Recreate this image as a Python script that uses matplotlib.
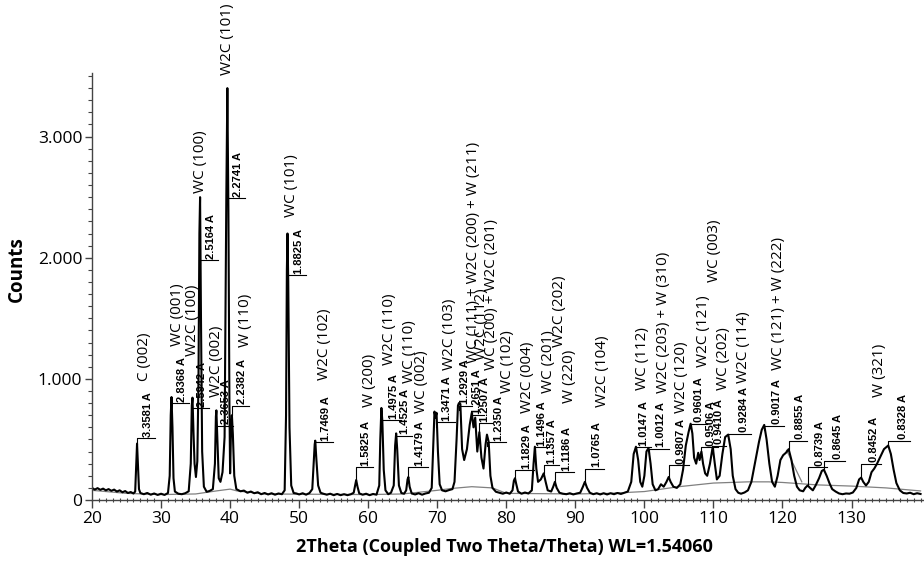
import matplotlib
matplotlib.use("Agg")
import matplotlib.pyplot as plt
from matplotlib.ticker import MultipleLocator, FuncFormatter

# scan: (2theta, counts)
trace = [
    (20.0, 100), (20.4, 86), (20.8, 98), (21.2, 84), (21.6, 94), (22.0, 80), (22.4, 90),
    (22.8, 76), (23.2, 86), (23.6, 70), (24.0, 80), (24.4, 64), (24.8, 74), (25.2, 58),
    (25.6, 66), (26.0, 54), (26.25, 70), (26.4, 300), (26.52, 466), (26.65, 300),
    (26.8, 90), (27.0, 58), (27.5, 48), (28.0, 58), (28.5, 44), (29.0, 54), (29.5, 42),
    (30.0, 52), (30.5, 42), (31.0, 58), (31.25, 200), (31.4, 700), (31.51, 850),
    (31.65, 600), (31.8, 180), (32.0, 70), (32.5, 52), (33.0, 48), (33.5, 56), (34.0, 72),
    (34.3, 300), (34.45, 780), (34.55, 845), (34.7, 550), (34.85, 300), (35.05, 190),
    (35.25, 320), (35.42, 1000), (35.55, 2200), (35.65, 2500), (35.78, 1500),
    (35.95, 400), (36.2, 110), (36.6, 68), (37.0, 74), (37.5, 90), (37.8, 300),
    (37.94, 690), (38.01, 740), (38.15, 500), (38.35, 180), (38.6, 150), (38.9, 230),
    (39.2, 520), (39.45, 2500), (39.6, 3400), (39.75, 2400), (39.9, 800), (40.0, 220),
    (40.12, 560), (40.26, 700), (40.4, 540), (40.6, 200), (40.9, 90), (41.5, 72),
    (42.0, 78), (42.5, 60), (43.0, 70), (43.5, 56), (44.0, 64), (44.5, 48), (45.0, 58),
    (45.5, 46), (46.0, 56), (46.5, 44), (47.0, 54), (47.5, 48), (47.9, 80), (48.1, 700),
    (48.22, 1900), (48.31, 2200), (48.42, 1800), (48.6, 600), (48.85, 120), (49.2, 58),
    (49.6, 54), (50.0, 46), (50.5, 56), (51.0, 44), (51.5, 58), (51.9, 90), (52.1, 300),
    (52.25, 460), (52.33, 490), (52.5, 330), (52.75, 120), (53.1, 60), (53.5, 52),
    (54.0, 44), (54.5, 52), (55.0, 40), (55.5, 50), (56.0, 40), (56.5, 48), (57.0, 40),
    (57.5, 48), (57.9, 60), (58.1, 120), (58.26, 165), (58.45, 110), (58.7, 55),
    (59.2, 44), (59.7, 52), (60.2, 40), (60.7, 50), (61.2, 44), (61.6, 120), (61.75, 500),
    (61.91, 760), (62.05, 650), (62.25, 250), (62.5, 80), (62.9, 48), (63.3, 60),
    (63.7, 120), (63.9, 450), (64.05, 550), (64.2, 420), (64.45, 120), (64.8, 58),
    (65.2, 52), (65.5, 80), (65.7, 170), (65.82, 190), (66.0, 110), (66.3, 54), (66.8, 46),
    (67.3, 56), (67.8, 44), (68.3, 54), (68.8, 60), (69.2, 100), (69.45, 500), (69.6, 730),
    (69.75, 680), (69.9, 720), (70.1, 400), (70.35, 130), (70.7, 80), (71.2, 72),
    (71.7, 82), (72.2, 90), (72.5, 150), (72.8, 500), (73.0, 780), (73.14, 800),
    (73.35, 790), (73.6, 420), (73.9, 330), (74.3, 420), (74.7, 620), (75.0, 720),
    (75.25, 600), (75.5, 680), (75.8, 400), (76.1, 560), (76.4, 350), (76.7, 260),
    (77.0, 460), (77.2, 540), (77.45, 480), (77.7, 200), (78.0, 100), (78.5, 68),
    (79.0, 60), (79.5, 52), (80.0, 62), (80.5, 52), (80.9, 80), (81.1, 160), (81.26, 180),
    (81.45, 130), (81.7, 70), (82.2, 52), (82.7, 62), (83.2, 54), (83.7, 80), (83.95, 300),
    (84.14, 440), (84.35, 260), (84.6, 150), (85.0, 170), (85.42, 220), (85.7, 150),
    (86.0, 80), (86.5, 70), (86.8, 110), (87.04, 150), (87.3, 100), (87.7, 60), (88.2, 52),
    (88.7, 48), (89.2, 56), (89.7, 46), (90.2, 54), (90.7, 60), (91.1, 110), (91.38, 150),
    (91.7, 100), (92.1, 60), (92.6, 48), (93.1, 56), (93.6, 46), (94.1, 56), (94.6, 46),
    (95.1, 56), (95.6, 48), (96.1, 58), (96.6, 50), (97.1, 60), (97.6, 70), (98.1, 150),
    (98.45, 380), (98.78, 440), (99.1, 330), (99.4, 150), (99.7, 110), (100.0, 200),
    (100.3, 400), (100.6, 430), (100.9, 300), (101.2, 130), (101.6, 80), (102.0, 90),
    (102.4, 130), (102.8, 110), (103.2, 150), (103.52, 190), (103.8, 150), (104.2, 110),
    (104.7, 100), (105.2, 130), (105.6, 250), (106.0, 450), (106.4, 560), (106.7, 630),
    (106.95, 550), (107.2, 350), (107.5, 300), (107.8, 390), (108.0, 330), (108.26, 400),
    (108.5, 300), (108.8, 220), (109.1, 200), (109.5, 300), (109.9, 440), (110.2, 300),
    (110.5, 170), (110.9, 200), (111.3, 380), (111.7, 520), (112.14, 540), (112.5, 420),
    (112.8, 200), (113.2, 90), (113.6, 60), (114.0, 52), (114.5, 62), (115.0, 80),
    (115.5, 150), (116.0, 300), (116.6, 480), (117.0, 580), (117.36, 620), (117.7, 500),
    (118.1, 300), (118.5, 150), (118.9, 110), (119.3, 200), (119.7, 330), (120.1, 370),
    (120.5, 390), (120.9, 420), (121.3, 330), (121.7, 200), (122.1, 110), (122.5, 80),
    (123.0, 72), (123.3, 100), (123.64, 120), (124.0, 100), (124.4, 80), (124.8, 120),
    (125.3, 180), (125.7, 240), (126.0, 250), (126.4, 200), (126.8, 140), (127.2, 90),
    (127.7, 70), (128.2, 54), (128.7, 48), (129.2, 54), (129.7, 52), (130.2, 62),
    (130.7, 100), (131.1, 170), (131.4, 185), (131.7, 150), (132.1, 120), (132.5, 150),
    (132.9, 230), (133.3, 260), (133.7, 300), (134.2, 360), (134.7, 420), (135.32, 450),
    (135.7, 380), (136.1, 250), (136.5, 140), (137.0, 80), (137.5, 58), (138.0, 54),
    (138.5, 60), (139.0, 48), (139.5, 56), (140.0, 50),
]

# fitted background (thin grey line)
background = [
    (20, 80), (25, 55), (30, 45), (35, 50), (38, 75), (40, 90), (41, 75), (45, 50),
    (60, 45), (65, 50), (70, 80), (72, 95), (75, 110), (78, 100), (80, 55), (90, 50),
    (95, 55), (100, 70), (105, 110), (110, 140), (115, 150), (118, 150), (120, 145),
    (125, 125), (130, 115), (135, 100), (140, 75),
]
fit_line = [(120.6, 410), (122.8, 150)]

# peak labels
peak_2theta = [26.52, 31.51, 34.55, 35.65, 38.01, 39.60, 40.26, 48.31, 52.33, 58.26,
               61.91, 64.05, 65.82, 69.75, 73.14, 75.02, 76.10, 77.20, 81.26, 84.14,
               85.42, 87.04, 91.38, 98.78, 100.60, 103.52, 106.70, 108.26, 109.90, 112.14,
               117.36, 120.90, 123.64, 126.00, 131.40, 135.32]
peak_counts = [466, 850, 845, 2500, 740, 3400, 700, 2200, 490, 165,
               760, 550, 190, 730, 800, 720, 560, 540, 180, 440,
               220, 150, 150, 440, 430, 190, 630, 400, 440, 540,
               620, 420, 120, 250, 185, 450]
d_labels = ["3.3581 A", "2.8368 A", "2.5942 A", "2.5164 A", "2.3653 A", "2.2741 A",
            "2.2382 A", "1.8825 A", "1.7469 A", "1.5825 A", "1.4975 A", "1.4525 A",
            "1.4179 A", "1.3471 A", "1.2929 A", "1.2651 A", "1.2507 A", "1.2350 A",
            "1.1829 A", "1.1496 A", "1.1357 A", "1.1186 A", "1.0765 A", "1.0147 A",
            "1.0012 A", "0.9807 A", "0.9601 A", "0.9506 A", "0.9410 A", "0.9284 A",
            "0.9017 A", "0.8855 A", "0.8739 A", "0.8645 A", "0.8452 A", "0.8328 A"]
phase_labels = ["C (002)", "WC (001)", "W2C (100)", "WC (100)", "W2C (002)", "W2C (101)",
                "W (110)", "WC (101)", "W2C (102)", "W (200)", "W2C (110)", "WC (110)",
                "WC (002)", "W2C (103)", "WC (111) + W2C (200) + W (211)", "W2C (112)",
                "WC (200) + W2C (201)", "WC (102)", "W2C (004)", "WC (201)", "W2C (202)",
                "W (220)", "W2C (104)", "WC (112)", "W2C (203) + W (310)", "W2C (120)",
                "W2C (121)", "WC (003)", "WC (202)", "W2C (114)", "WC (121) + W (222)",
                "", "", "", "W (321)", ""]
label_level = [508, 797, 756, 1980, 615, 2490, 780, 1855, 478, 271,
               657, 530, 270, 640, 780, 700, 632, 478, 245, 436,
               285, 230, 260, 435, 425, 285, 630, 435, 450, 548,
               615, 490, 270, 325, 300, 490]
label_end = [29.1, 34.1, 37.0, 38.2, 40.4, 42.1, 42.8, 51.0, 54.9, 60.7,
             64.8, 66.4, 68.6, 72.5, 75.0, 76.8, 78.0, 80.0, 84.0, 86.2,
             87.6, 89.8, 94.2, 101.0, 103.5, 106.4, 109.0, 110.7, 111.8, 115.4,
             120.2, 123.5, 126.4, 129.1, 134.3, 138.5]

# where the phase names were placed (centre x, bottom y)
phase_pos = [(27.6, 980), (32.4, 1270), (34.6, 1190), (35.7, 2533), (38.1, 847),
             (39.6, 3508), (42.2, 1260), (48.9, 2335), (53.7, 988), (60.2, 765),
             (63.1, 1112), (66.0, 963), (67.7, 715), (71.8, 1070), (75.2, 1128),
             (76.4, 1153), (77.9, 1070), (80.2, 880), (83.1, 715), (86.1, 880),
             (87.75, 1260), (89.2, 797), (94.0, 765), (99.8, 905), (102.7, 880),
             (105.4, 715), (108.5, 1096), (110.2, 1800), (111.5, 905), (114.3, 963),
             (119.4, 1070), None, None, None, (134.0, 847), None]

plt.rcParams['font.family'] = ['Open Sans', 'DejaVu Sans']

fig = plt.figure(figsize=(9.24, 5.61), dpi=100)
ax = fig.add_axes([0.0996, 0.1087, 0.9004, 0.7612])

bx, by = zip(*background)
ax.plot(bx, by, color='#808080', lw=0.9)
fx, fy = zip(*fit_line)
ax.plot(fx, fy, color='#808080', lw=0.9)
tx, ty = zip(*trace)
ax.plot(tx, ty, color='black', lw=1.5)

for i in range(len(peak_2theta)):
    xs = peak_2theta[i]
    yh = label_level[i]
    xe = label_end[i]
    y0 = min(peak_counts[i], yh - 35)
    ax.plot([xs, xs, xe], [y0, yh, yh], color='black', lw=0.8)
    ax.annotate(d_labels[i], xy=(xe, yh), xytext=(-1.5, 1), textcoords='offset points',
                rotation=90, ha='right', va='bottom', fontsize=8, fontweight='bold',
                family=['Liberation Sans', 'DejaVu Sans'])
    if phase_labels[i]:
        px, py = phase_pos[i]
        ax.text(px, py, phase_labels[i], rotation=90, ha='center', va='bottom',
                fontsize=11, color='black', clip_on=False)

ax.set_xlim(20, 140.5)
ax.set_ylim(0, 3525)
ax.set_xticks(range(20, 131, 10))
ax.xaxis.set_minor_locator(MultipleLocator(1))
ax.yaxis.set_major_locator(MultipleLocator(1000))
ax.yaxis.set_minor_locator(MultipleLocator(100))
ax.yaxis.set_major_formatter(FuncFormatter(lambda v, p: f"{v:,.0f}".replace(',', '.')))

ax.tick_params(axis='x', which='major', direction='out', length=6, width=1,
               labelsize=12.5, pad=2, color='#444444')
ax.tick_params(axis='x', which='minor', direction='inout', length=3, width=0.8,
               color='#444444')
ax.tick_params(axis='y', which='major', direction='out', length=5, width=1,
               labelsize=12.5, pad=2, color='#444444')
ax.tick_params(axis='y', which='minor', direction='out', length=3, width=0.8,
               color='#444444')

for side in ['top', 'right']:
    ax.spines[side].set_visible(False)
for side in ['left', 'bottom']:
    ax.spines[side].set_color('#444444')
    ax.spines[side].set_linewidth(1)

ax.set_ylabel('Counts', fontsize=13.5, fontweight='bold')
ax.yaxis.set_label_coords(-0.078, 0.54)
ax.set_xlabel('2Theta (Coupled Two Theta/Theta) WL=1.54060', fontsize=13, fontweight='bold')
ax.xaxis.set_label_coords(0.496, -0.09)

fig.savefig('out.png', dpi=100)
